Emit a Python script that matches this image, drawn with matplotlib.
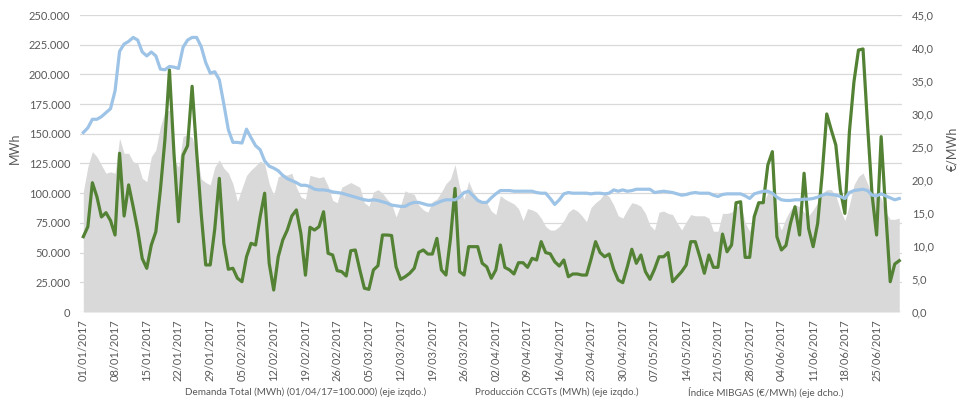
import matplotlib
matplotlib.use("Agg")
import matplotlib.pyplot as plt
from matplotlib.ticker import FuncFormatter, MultipleLocator
import numpy as np
import pandas as pd

dates = pd.date_range("2017-01-01", "2017-06-30", freq="D")

demanda = [
    101300, 122300, 135000, 130700, 123700, 116800, 118000, 116800, 146200, 133600,
    133600, 126500, 125200, 112500, 109700, 130700, 136400, 156000, 168600, 170000,
    128000, 122000, 148000, 149000, 147000, 135000, 112000, 109000, 107000, 122000,
    128000, 121000, 117000, 108000, 93000, 104000, 115000, 119500, 123000, 127000,
    125000, 108000, 98500, 113900, 115300, 115300, 116800, 105000, 97000, 95000,
    115000, 114000, 113000, 114000, 106000, 94000, 92000, 105000, 107000, 109000,
    107000, 105000, 92000, 89000, 101000, 103000, 100000, 95000, 91000, 80000,
    90000, 102000, 100000, 99000, 90000, 86000, 84000, 93000, 95000, 101000,
    108000, 112000, 124000, 105000, 95000, 110000, 101000, 96000, 92000, 92000,
    85000, 82000, 98000, 95000, 93000, 91000, 87000, 77000, 87000, 86000,
    84000, 79000, 72000, 69000, 69000, 72000, 77000, 84000, 87000, 85000,
    81000, 76000, 88000, 92000, 95000, 100000, 97000, 90000, 81000, 79000,
    86000, 92000, 91000, 89000, 83000, 73000, 69000, 84000, 85000, 83000,
    82000, 75000, 69000, 76000, 82000, 81000, 81000, 81000, 79000, 68000,
    68000, 83000, 83000, 84000, 88000, 91000, 75000, 68000, 84000, 91000,
    92000, 100000, 101000, 78000, 69000, 79000, 86000, 90000, 89000, 84000,
    81000, 86000, 92000, 100000, 103000, 103000, 98000, 86000, 77000, 90000,
    107000, 114000, 117000, 108000, 99000, 100000, 96000, 84000, 78000, 78000,
    79000,
]

ccgt = [
    63400, 71800, 108800, 97000, 80000, 83600, 77000, 64800, 133600, 80800,
    107000, 88600, 69000, 45000, 36800, 56400, 67600, 102700, 144800, 203700,
    133600, 76000, 132000, 140000, 190000, 135000, 83000, 39600, 39600, 70000,
    112500, 57800, 36000, 36800, 28400, 25500, 46500, 57800, 56400, 80000,
    100000, 41000, 18500, 46500, 60600, 69000, 80800, 85900, 66000, 31000,
    71300, 69000, 71800, 84400, 49400, 48000, 34800, 34000, 30300, 51600,
    52200, 35400, 20000, 19100, 35400, 39000, 64800, 64800, 64400, 38000,
    27500, 29700, 32600, 36800, 50200, 52200, 48800, 48800, 62000, 35400,
    31100, 62000, 104000, 34000, 31100, 55000, 55000, 55000, 41000, 38000,
    28400, 35400, 56400, 37500, 35500, 32000, 41500, 41500, 37600, 45200,
    43800, 59200, 50000, 49000, 42300, 38700, 43800, 29700, 32000, 32000,
    31100, 31100, 44400, 59200, 50000, 46500, 48800, 36000, 26900, 24700,
    38000, 52800, 41000, 48000, 34000, 27500, 36000, 46500, 46500, 50000,
    25500, 29700, 34000, 39600, 59200, 59200, 46500, 32600, 48000, 37600,
    37600, 65600, 50700, 56400, 92000, 92800, 46000, 46000, 80200, 92000,
    92000, 123700, 135000, 63400, 52200, 56000, 74700, 88600, 64800, 116800,
    70400, 55000, 74700, 116800, 166700, 153200, 140600, 102700, 83000, 151800,
    193800, 220500, 221400, 157400, 98500, 64800, 147600, 84800, 25500, 40400,
    43200,
]

mibgas = [
    27.2, 27.9, 29.2, 29.2, 29.6, 30.2, 30.8, 33.5, 39.5, 40.6,
    41.0, 41.6, 41.2, 39.4, 38.8, 39.4, 38.8, 36.8, 36.7, 37.2,
    37.1, 36.9, 40.1, 41.2, 41.6, 41.6, 40.2, 37.8, 36.2, 36.4,
    35.2, 31.5, 27.6, 25.7, 25.7, 25.6, 27.7, 26.4, 25.2, 24.6,
    22.9, 22.1, 21.8, 21.4, 20.7, 20.2, 19.9, 19.6, 19.2, 19.2,
    19.0, 18.6, 18.5, 18.5, 18.4, 18.2, 18.1, 18.0, 17.8, 17.6,
    17.4, 17.2, 17.0, 16.9, 17.0, 16.9, 16.7, 16.5, 16.2, 16.1,
    16.0, 16.0, 16.4, 16.6, 16.6, 16.4, 16.2, 16.2, 16.5, 16.8,
    17.0, 17.0, 17.0, 17.4, 18.1, 18.3, 17.6, 16.9, 16.6, 16.6,
    17.3, 17.9, 18.4, 18.4, 18.4, 18.3, 18.3, 18.3, 18.3, 18.3,
    18.1, 18.0, 18.0, 17.2, 16.3, 17.0, 17.9, 18.1, 18.0, 18.0,
    18.0, 18.0, 17.9, 18.0, 18.0, 17.9, 18.0, 18.5, 18.3, 18.5,
    18.3, 18.4, 18.6, 18.6, 18.6, 18.6, 18.1, 18.2, 18.3, 18.2,
    18.1, 17.9, 17.7, 17.8, 18.0, 18.1, 18.0, 18.0, 18.0, 17.7,
    17.5, 17.8, 17.9, 17.9, 17.9, 17.9, 17.6, 17.2, 17.9, 18.1,
    18.3, 18.3, 18.0, 17.4, 17.0, 16.9, 16.9, 17.0, 17.0, 17.1,
    17.1, 17.2, 17.4, 17.7, 17.9, 17.8, 17.7, 17.5, 17.2, 18.1,
    18.4, 18.5, 18.6, 18.4, 17.7, 17.6, 17.9, 17.6, 17.3, 17.0,
    17.2,
]

legend_labels = [
    "Demanda Total (MWh) (01/04/17=100.000) (eje izqdo.)",
    "Producción CCGTs (MWh) (eje izqdo.)",
    "Índice MIBGAS (€/MWh) (eje dcho.)",
]

TXT = "#595959"
plt.rcParams["font.family"] = ["Lato", "DejaVu Sans"]

fig = plt.figure(figsize=(9.63, 4.15), dpi=100)
L, R = 80 / 963, 902 / 963
B, T = 1 - 312 / 415, 1 - 15 / 415
ax = fig.add_axes([L, B, R - L, T - B])
ax2 = ax.twinx()

x = np.arange(len(dates))
ax.fill_between(x, 0, demanda, color="#d9d9d9", linewidth=0, zorder=2)
ax.plot(x, ccgt, color="#548235", linewidth=2.3, zorder=3, solid_joinstyle="round")
ax2.plot(x, mibgas, color="#9dc3e6", linewidth=2.3, zorder=3, solid_joinstyle="round")

ax.set_xlim(-0.73, 180.6)
ax.set_ylim(0, 250000)
ax2.set_ylim(0, 45)
ax.yaxis.set_major_locator(MultipleLocator(25000))
ax2.yaxis.set_major_locator(MultipleLocator(5))
ax.yaxis.set_major_formatter(FuncFormatter(lambda v, p: f"{int(round(v)):,}".replace(",", ".")))
ax2.yaxis.set_major_formatter(FuncFormatter(lambda v, p: f"{v:.1f}".replace(".", ",")))

ticks = x[::7]
ax.set_xticks(ticks)
ax.set_xticklabels([dates[i].strftime("%d/%m/%Y") for i in ticks], rotation=90)

ax.grid(axis="y", color="#d9d9d9", linewidth=0.9, zorder=0)
ax.set_axisbelow(True)
for a in (ax, ax2):
    for s in a.spines.values():
        s.set_visible(False)
    a.tick_params(length=0, colors=TXT, labelsize=8)
ax.tick_params(axis="y", pad=7)
ax2.tick_params(axis="y", pad=7)
ax.tick_params(axis="x", pad=5)

ax.set_ylabel("MWh", color=TXT, fontsize=9)
ax.yaxis.set_label_coords((21 - 80) / 822, 0.55)
ax2.set_ylabel("€/MWh", color=TXT, fontsize=9, rotation=90)
ax2.yaxis.set_label_coords((946 - 80) / 822, 0.55)

ly = 1 - 392 / 415
for lbl, cx in zip(legend_labels, [306, 557, 766]):
    fig.text(cx / 963, ly, lbl, ha="center", va="center", color=TXT, fontsize=7.1)

fig.savefig("out.png", dpi=100, facecolor="white")
